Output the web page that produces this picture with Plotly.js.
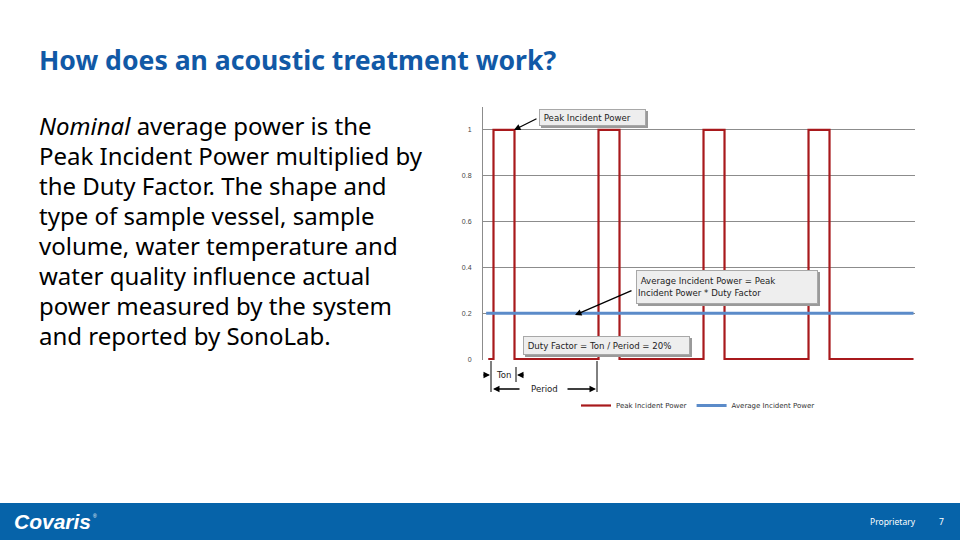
<!DOCTYPE html>
<html>
<head>
<meta charset="utf-8">
<script src="https://cdn.plot.ly/plotly-3.0.1.min.js"></script>
<style>
html,body{margin:0;padding:0;background:#fff;}
#chart{width:960px;height:540px;}
</style>
</head>
<body>
<div id="chart"></div>
<script>
// ---- data ----
const peakX = [0.5, 1, 1, 3, 3, 11, 11, 13, 13, 21, 21, 23, 23, 31, 31, 33, 33, 41];
const peakY = [0, 0, 1, 1, 0, 0, 1, 1, 0, 0, 1, 1, 0, 0, 1, 1, 0, 0];
const avgX = [0.3, 41];
const avgY = [0.2, 0.2];
const yTickVals = [0, 0.2, 0.4, 0.6, 0.8, 1];
const yTickText = ["0", "0.2", "0.4", "0.6", "0.8", "1"];
const seriesNames = ["Peak Incident Power", "Average Incident Power"];
const slideTitle = "How does an acoustic treatment work?";
const bodyLines = [
  "<i>Nominal</i> average power is the",
  "Peak Incident Power multiplied by",
  "the Duty Factor. The shape and",
  "type of sample vessel, sample",
  "volume, water temperature and",
  "water quality influence actual",
  "power measured by the system",
  "and reported by SonoLab."
];
const calloutPeak = "Peak Incident Power";
const calloutAvg = "Average Incident Power = Peak<br>Incident Power * Duty Factor";
const calloutDuty = "Duty Factor = Ton / Period = 20%";

// ---- geometry helpers (pixel -> paper) ----
const L = 483, R = 915, T = 107, B = 360;
const W = R - L, H = B - T;
const Xp = px => (px - L) / W;
const Yp = py => (B - py) / H;

const annFont = {family: "DejaVu Sans, Liberation Sans, sans-serif", size: 8.6, color: "#222"};
const shapes = [];
const annotations = [];

// slide title
annotations.push({xref:"paper", yref:"paper", x:Xp(37), y:Yp(60), xanchor:"left", yanchor:"middle",
  text:"<b>"+slideTitle+"</b>", showarrow:false,
  font:{family:"Noto Sans, Open Sans, sans-serif", size:26.6, color:"#1159A6"}});
// body text
bodyLines.forEach((t, i) => {
  annotations.push({xref:"paper", yref:"paper", x:Xp(37), y:Yp(125 + i*30.1), xanchor:"left", yanchor:"middle",
    text:t, showarrow:false, font:{family:"Noto Sans, Open Sans, sans-serif", size:24, color:"#000"}});
});

// callout boxes
function box(left, top, right, bottom, text) {
  shapes.push({type:"rect", xref:"paper", yref:"paper", layer:"above",
    x0:Xp(left+2), x1:Xp(right+2), y0:Yp(top+2), y1:Yp(bottom+2),
    fillcolor:"#9a9a9a", line:{width:0}});
  annotations.push({xref:"paper", yref:"paper", x:Xp(left), y:Yp(top), xanchor:"left", yanchor:"top",
    width:right-left-4, height:bottom-top-4, align:"left", valign:"middle",
    bgcolor:"#EEEEEE", bordercolor:"#A8A8A8", borderwidth:1, borderpad:1,
    text:text, showarrow:false, font:annFont});
}
box(539, 109, 646, 126, "&nbsp;"+calloutPeak);
box(636, 270, 818, 304, "&nbsp;"+calloutAvg);
box(523, 336, 690, 355, "&nbsp;"+calloutDuty);

// callout arrows (tip and tail in pixels)
function arrow(xTipPx, yTipPx, axPx, ayPx) {
  annotations.push({xref:"paper", yref:"paper", x:Xp(xTipPx), y:Yp(yTipPx), ax:axPx, ay:ayPx,
    axref:"pixel", ayref:"pixel", text:"", showarrow:true, arrowhead:2,
    arrowsize:1, arrowwidth:1.3, arrowcolor:"#000", standoff:0, startstandoff:0});
}
arrow(514, 130, 24, -12);
arrow(575, 315, 58, -25);

// Ton / Period dimension marks
function vline(px, y0, y1) {
  shapes.push({type:"line", xref:"paper", yref:"paper", x0:Xp(px), x1:Xp(px), y0:Yp(y0), y1:Yp(y1),
    line:{color:"#000", width:1}});
}
vline(491, 361, 392);
vline(516, 367, 382);
vline(597, 361, 392);
arrow(490, 375, -8, 0);
arrow(517, 375, 8, 0);
arrow(493, 389, 28, 0);
arrow(596, 389, -30, 0);
annotations.push({xref:"paper", yref:"paper", x:Xp(503.5), y:Yp(375), xanchor:"center", yanchor:"middle",
  text:"Ton", showarrow:false, font:annFont});
annotations.push({xref:"paper", yref:"paper", x:Xp(544), y:Yp(389), xanchor:"center", yanchor:"middle",
  text:"Period", showarrow:false, font:annFont});

// footer
shapes.push({type:"rect", xref:"paper", yref:"paper", layer:"below",
  x0:Xp(0), x1:Xp(960), y0:Yp(503), y1:Yp(541), fillcolor:"#0663A9", line:{width:0}});
annotations.push({xref:"paper", yref:"paper", x:Xp(12), y:Yp(521), xanchor:"left", yanchor:"middle",
  text:"<b><i>Covaris</i></b>", showarrow:false,
  font:{family:"Liberation Sans, Arial, sans-serif", size:21, color:"#fff"}});
annotations.push({xref:"paper", yref:"paper", x:Xp(95), y:Yp(516), xanchor:"center", yanchor:"middle",
  text:"®", showarrow:false,
  font:{family:"Liberation Sans, Arial, sans-serif", size:5, color:"#fff"}});
annotations.push({xref:"paper", yref:"paper", x:Xp(868), y:Yp(521), xanchor:"left", yanchor:"middle",
  text:"Proprietary", showarrow:false, font:{family:"Noto Sans, sans-serif", size:8.5, color:"#fff"}});
annotations.push({xref:"paper", yref:"paper", x:Xp(941), y:Yp(521), xanchor:"center", yanchor:"middle",
  text:"7", showarrow:false, font:{family:"Noto Sans, sans-serif", size:8.5, color:"#fff"}});

const traces = [
  {x: peakX, y: peakY, name: seriesNames[0], type: "scatter", mode: "lines",
   line: {color: "#A8191C", width: 2.2}},
  {x: avgX, y: avgY, name: seriesNames[1], type: "scatter", mode: "lines",
   line: {color: "#5B8BC9", width: 3}}
];

const layout = {
  width: 960, height: 540,
  margin: {l: L, r: 960 - R, t: T, b: 540 - B, pad: 0},
  paper_bgcolor: "#fff", plot_bgcolor: "#fff",
  showlegend: true,
  legend: {orientation: "h", x: Xp(576), y: Yp(391), xanchor: "left", yanchor: "top",
    bgcolor: "rgba(0,0,0,0)", font: {family: "DejaVu Sans, Liberation Sans, sans-serif", size: 7, color: "#333"},
    itemwidth: 30, tracegroupgap: 0},
  xaxis: {range: [0, 41.14], showgrid: false, zeroline: false, showline: false,
    showticklabels: false, ticks: "", fixedrange: true},
  yaxis: {range: [-0.004, 1.1], tickvals: yTickVals, ticktext: yTickText,
    showgrid: true, gridcolor: "#8C8C8C", gridwidth: 1, zeroline: false,
    showline: true, linecolor: "#8C8C8C", linewidth: 1, ticks: "", ticklabelstandoff: 9,
    tickfont: {family: "Liberation Sans, Arial, sans-serif", size: 7, color: "#444"}, fixedrange: true},
  shapes: shapes,
  annotations: annotations
};

Plotly.newPlot("chart", traces, layout, {displayModeBar: false, staticPlot: true});
</script>
</body>
</html>
